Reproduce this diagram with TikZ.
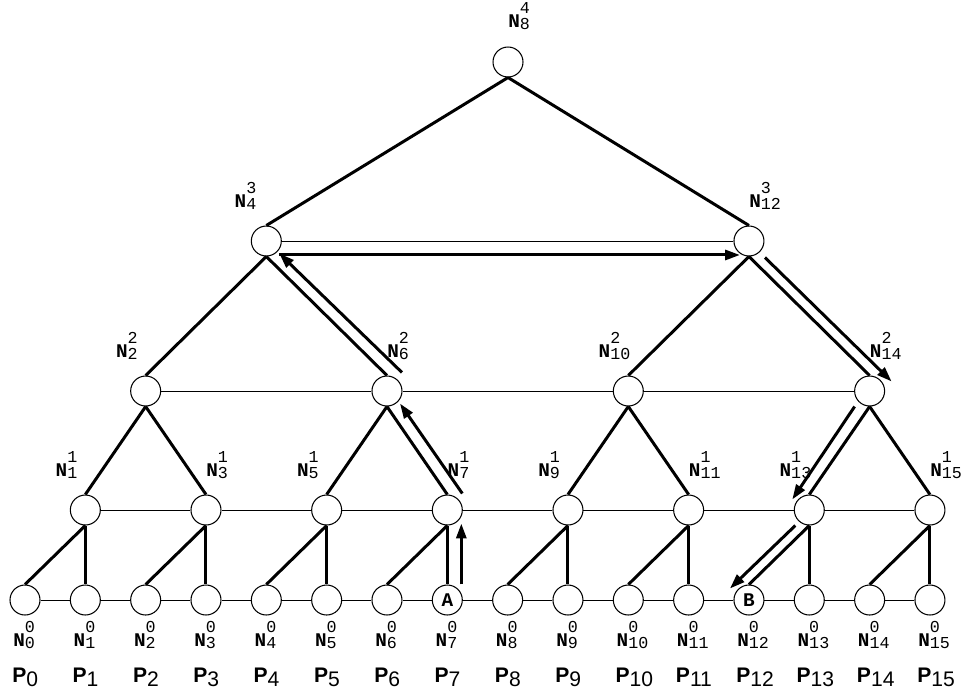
\documentclass[tikz,border=0pt]{standalone}
\usepackage{fontspec}
\setmonofont{Liberation Mono}
\setsansfont{Liberation Sans}
\usetikzlibrary{arrows.meta}

\newcommand{\nname}[2]{{\fontsize{11}{11}\selectfont\ttfamily\bfseries N}{\fontsize{9.5}{9.5}\selectfont\ttfamily\rlap{\raisebox{7.6pt}{#1}}\raisebox{-1.6pt}{#2}}}
\newcommand{\pname}[1]{{\fontsize{12}{12}\selectfont\sffamily\bfseries P}{\fontsize{12}{12}\selectfont\sffamily\raisebox{-2.8pt}{#1}}}

\begin{document}
\begin{tikzpicture}[x=0.02cm, y=-0.02cm,
    pe/.style={draw, circle, fill=white, minimum size=0.6cm, inner sep=0pt, line width=0.6pt, font=\fontsize{11}{11}\selectfont\ttfamily\bfseries},
    link/.style={line width=0.5pt},
    edge/.style={line width=1.7pt},
    route/.style={line width=1.7pt, -{Triangle[length=8.5pt, width=5.7pt]}},
    nlab/.style={anchor=base west, inner sep=0pt}
]
    \useasboundingbox (0,0) rectangle (964,698);

    % level 0 and processors
    \foreach \i in {0,...,15} {
        \node[pe] (n0-\i) at ({25+60.33*\i},600) {\ifnum\i=7 A\fi\ifnum\i=12 B\fi};
        \node[nlab] (l0-\i) at ([shift={(-12,46)}]n0-\i.center) {\nname{0}{\i}};
        \node[nlab] (p\i) at ([shift={(-13,82)}]n0-\i.center) {\pname{\i}};
    }
    % level 1
    \foreach \i [evaluate=\i as \dx using {mod(\i,4)==1 ? -30 : 0}] in {1,3,...,15} {
        \node[pe] (n1-\i) at ({25+60.33*\i},510) {};
        \node[nlab] (l1-\i) at ([shift={(\dx,-34)}]n1-\i.center) {\nname{1}{\i}};
    }
    % level 2
    \foreach \i [evaluate=\i as \dx using {mod(\i,8)==2 ? -30 : 0}] in {2,6,10,14} {
        \node[pe] (n2-\i) at ({25+60.33*\i},391) {};
        \node[nlab] (l2-\i) at ([shift={(\dx,-34)}]n2-\i.center) {\nname{2}{\i}};
    }
    % level 3 and root
    \foreach \i/\dx in {4/-32,12/0} {
        \node[pe] (n3-\i) at ({25+60.33*\i},241) {};
        \node[nlab] (l3-\i) at ([shift={(\dx,-34)}]n3-\i.center) {\nname{3}{\i}};
    }
    \node[pe] (n4-8) at (508,62) {};
    \node[nlab] (l4-8) at ([shift={(0,-35)}]n4-8.center) {\nname{4}{8}};

    % horizontal links
    \foreach \i [evaluate=\i as \j using int(\i+1)] in {0,...,14}
        \draw[link] (n0-\i) -- (n0-\j);
    \foreach \i [evaluate=\i as \j using int(\i+2)] in {1,3,...,13}
        \draw[link] (n1-\i) -- (n1-\j);
    \foreach \i [evaluate=\i as \j using int(\i+4)] in {2,6,10}
        \draw[link] (n2-\i) -- (n2-\j);
    \draw[link] (n3-4) -- (n3-12);

    % tree edges
    \foreach \i [evaluate=\i as \j using int(\i-1)] in {1,3,...,15} {
        \draw[edge] (n1-\i.south) -- (n0-\j.north);
        \draw[edge] (n1-\i.south) -- (n0-\i.north);
    }
    \foreach \i [evaluate=\i as \j using int(\i-1), evaluate=\i as \k using int(\i+1)] in {2,6,10,14} {
        \draw[edge] (n2-\i.south) -- (n1-\j.north);
        \draw[edge] (n2-\i.south) -- (n1-\k.north);
    }
    \foreach \i [evaluate=\i as \j using int(\i-2), evaluate=\i as \k using int(\i+2)] in {4,12} {
        \draw[edge] (n3-\i.south) -- (n2-\j.north);
        \draw[edge] (n3-\i.south) -- (n2-\k.north);
    }
    \draw[edge] (n4-8.south) -- (n3-4.north);
    \draw[edge] (n4-8.south) -- (n3-12.north);

    % route from A to B
    \draw[route] ([shift={(14,0)}]n0-7.north) -- ([shift={(14,-2)}]n1-7.south);
    \draw[route] ([shift={(15,-1)}]n1-7.north) -- ([shift={(13,-3)}]n2-6.south);
    \draw[route] ([shift={(15,-3)}]n2-6.north) -- ([shift={(13,-3)}]n3-4.south);
    \draw[route] ([shift={(2,3)}]n3-4.south east) -- ([shift={(2,3)}]n3-12.south west);
    \draw[route] ([shift={(16,1)}]n3-12.south) -- ([shift={(22,6)}]n2-14.north);
    \draw[route] ([shift={(-15,0)}]n2-14.south) -- ([shift={(-17,5)}]n1-13.north);
    \draw[route] ([shift={(-14,0)}]n1-13.south) -- ([shift={(-19,4)}]n0-12.north);
\end{tikzpicture}
\end{document}
